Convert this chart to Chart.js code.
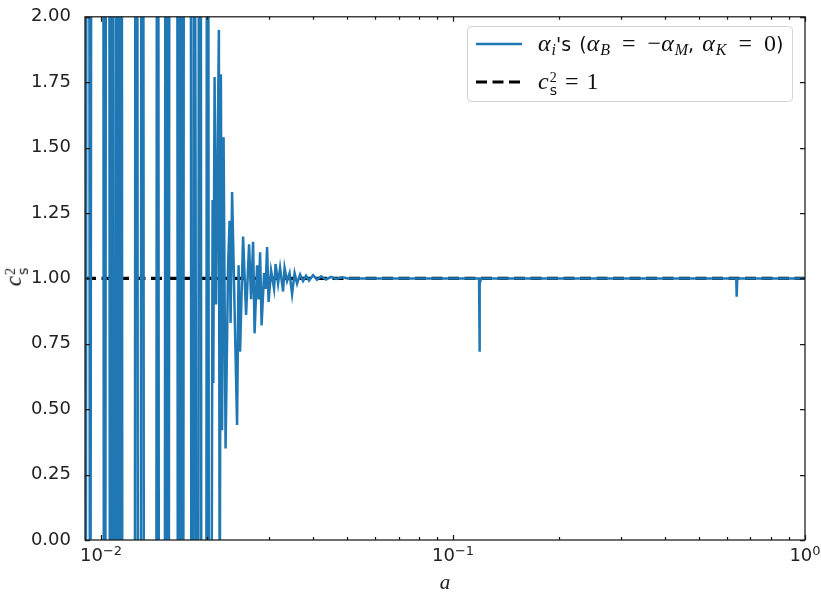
<!DOCTYPE html>
<html>
<head>
<meta charset="utf-8">
<script src="https://cdn.jsdelivr.net/npm/chart.js@4.4.0/dist/chart.umd.min.js"></script>
<style>
  html, body { margin: 0; padding: 0; background: #fff; }
  #wrap { position: relative; width: 821px; height: 592px; overflow: hidden; }
  #chart { position: absolute; left: 0; top: 0; }
  .legend {
    position: absolute; left: 467px; top: 26px; width: 326px; height: 76px;
    box-sizing: border-box; border: 1px solid #d4d4d4; border-radius: 4px;
    background: rgba(255,255,255,0.85);
    font-family: 'DejaVu Sans', sans-serif; font-size: 19px; color: #111;
  }
  .legend svg { position: absolute; left: 7px; }
  .legend .txt { position: absolute; left: 70px; white-space: nowrap; line-height: 24px; height: 24px; word-spacing: 2px; }
  .m { font-family: 'Liberation Serif', serif; font-style: italic; font-size: 24px; }
  .r { font-family: 'Liberation Serif', serif; font-style: normal; font-size: 24px; }
  .op { margin: 0 12px; }
  .op2 { margin: 0 8px; }
  .m sub { font-size: 16px; vertical-align: -4px; line-height: 0; margin-left: 1px; }
  .stack { display: inline-block; vertical-align: middle; line-height: 12px; font-size: 14px; margin-left: 1px; text-align: left; }
  .stack span { display: block; }
  .ytitle {
    position: absolute; left: 15px; top: 277px; white-space: nowrap;
    transform: translate(-50%, -50%) rotate(-90deg); color: #111;
  }
  .ytitle .m { font-size: 23px; }
</style>
</head>
<body>
<div id="wrap">
  <canvas id="chart" width="821" height="592"></canvas>

  <div class="ytitle"><span class="m">c</span><span class="stack"><span class="r" style="font-size:14px">2</span><span style="font-family:'DejaVu Sans';font-size:14px">s</span></span></div>

  <div class="legend">
    <svg width="50" height="8" style="top:13px"><line x1="1" y1="4" x2="47" y2="4" stroke="#1f77b4" stroke-width="2.4"/></svg>
    <div class="txt" style="top:4px"><span class="m">α<sub>i</sub></span>'s (<span class="m">α<sub>B</sub></span><span class="r op">=</span><span class="r">−</span><span class="m">α<sub>M</sub></span>, <span class="m">α<sub>K</sub></span><span class="r op">=</span><span class="r">0</span>)</div>
    <svg width="50" height="8" style="top:51px"><line x1="1" y1="4" x2="47" y2="4" stroke="#000" stroke-width="3.2" stroke-dasharray="11 5.5"/></svg>
    <div class="txt" style="top:42px"><span class="m">c</span><span class="stack"><span class="r" style="font-size:14px">2</span><span style="font-family:'DejaVu Sans';font-size:14px">s</span></span><span class="r op2">=</span><span class="r">1</span></div>
  </div>
</div>

<script>
// scale factor a (log axis) and the sound-speed squared c_s^2
// the grouped points in the early part are the pole crossings,
// where c_s^2 runs off to large positive / negative values
const aValues = [
  0.008717,
  0.009036, 0.009095, 0.009245, 0.009306, 0.009336, 0.009397,
  0.010132, 0.010198, 0.010265, 0.010332,
  0.010537, 0.010606, 0.010676, 0.010746, 0.010817, 0.010888,
  0.010995, 0.011067, 0.011140, 0.011213, 0.011286, 0.011360, 0.011435, 0.011510,
  0.012450, 0.012532, 0.012655, 0.012738,
  0.012948, 0.013033, 0.013162, 0.013248,
  0.014330, 0.014424, 0.014519, 0.014614,
  0.015149, 0.015249, 0.015349, 0.015450, 0.015551, 0.015653,
  0.016436, 0.016544, 0.016652, 0.016762, 0.016872, 0.016982, 0.017094, 0.017206,
  0.017958, 0.018076, 0.018255, 0.018374, 0.018556, 0.018677,
  0.018861, 0.018985, 0.019172, 0.019298,
  0.019875, 0.020005, 0.020137, 0.020269,
  0.020468, 0.020738, 0.020833, 0.021011, 0.021218, 0.021610, 0.021724, 0.021895, 0.022067, 0.022285, 0.022578,
  0.022951, 0.023177, 0.023329, 0.023559, 0.024342, 0.024582, 0.024825, 0.025317, 0.025818, 0.026330, 0.026677, 0.027028, 0.027295,
  0.027745, 0.028020, 0.028297, 0.028576, 0.029045, 0.029331, 0.029620, 0.029912, 0.030406, 0.031008, 0.031314, 0.031830,
  0.032249, 0.032888, 0.033213, 0.033760, 0.034317, 0.034883, 0.035458, 0.036043, 0.036757, 0.037485, 0.038228, 0.038986,
  0.040019, 0.041080, 0.042169, 0.043572, 0.045020, 0.046517, 0.048379, 0.050316,
  0.11855, 0.11878, 0.11925, 0.12011,
  0.6378, 0.6396, 0.6421,
  1.0
];

const cs2Values = [
  -2,
  -2, 4, 4, -2, -2, 4,
  4, -2, -2, 4,
  4, -2, -2, 4, 4, -2,
  -2, 4, 4, -2, -2, 4, 4, -2,
  -2, 4, 4, -2,
  -2, 4, 4, -2,
  -2, 4, 4, -2,
  -2, 4, 4, -2, -2, 4,
  4, -2, -2, 4, 4, -2, -2, 4,
  4, -2, -2, 4, 1.37, -2,
  -2, 4, 4, -2,
  -2, 4, 4, -2,
  -2, 1.30, 0.60, 1.77, 0.90, 1.95, -0.5, 1.78, 0.42, 1.54, 0.35,
  1.05, 1.22, 0.83, 1.33, 0.44, 1.05, 0.72, 1.16, 0.86, 1.13, 0.92, 1.14, 0.79,
  1.05, 0.92, 1.10, 0.82, 1.02, 0.96, 1.12, 0.91, 1.03, 0.96, 1.055, 0.98,
  1.04, 0.95, 1.04, 0.99, 1.02, 0.94, 1.02, 0.98, 1.015, 0.99, 1.01, 0.992,
  1.012, 0.995, 1.008, 0.996, 1.006, 0.998, 1.004, 1.0,
  1.0, 0.72, 0.98, 1.0,
  1.0, 0.93, 1.0,
  1.0
];

// reference line c_s^2 = 1
const refA = [0.009, 1.0];
const refC = [1.0, 1.0];

// axis ticks
const yTickValues = [0, 0.25, 0.5, 0.75, 1.0, 1.25, 1.5, 1.75, 2.0];
const xMajorValues = [0.01, 0.1, 1];
const xMajorBase = ['10', '10', '10'];
const xMajorExp = ['\u22122', '\u22121', '0'];
const xMinorValues = [0.02, 0.03, 0.04, 0.05, 0.06, 0.07, 0.08, 0.09,
                      0.2, 0.3, 0.4, 0.5, 0.6, 0.7, 0.8, 0.9];

const lineData = aValues.map((a, i) => ({ x: a, y: cs2Values[i] }));
const refData = refA.map((a, i) => ({ x: a, y: refC[i] }));

// frame on all four sides with inward-pointing ticks
const frameTicks = {
  id: 'frameTicks',
  afterDatasetsDraw(chart) {
    const { ctx, chartArea: { left, right, top, bottom }, scales: { x, y } } = chart;
    ctx.save();
    ctx.strokeStyle = '#1a1a1a';
    ctx.lineWidth = 1.25;
    ctx.strokeRect(left, top, right - left, bottom - top);
    ctx.beginPath();
    yTickValues.forEach(v => {
      const p = Math.round(y.getPixelForValue(v)) + 0.5;
      ctx.moveTo(left, p); ctx.lineTo(left + 5, p);
      ctx.moveTo(right, p); ctx.lineTo(right - 5, p);
    });
    xMajorValues.forEach(v => {
      const p = Math.round(x.getPixelForValue(v)) + 0.5;
      ctx.moveTo(p, bottom); ctx.lineTo(p, bottom - 5);
      ctx.moveTo(p, top); ctx.lineTo(p, top + 5);
    });
    xMinorValues.forEach(v => {
      const p = Math.round(x.getPixelForValue(v)) + 0.5;
      ctx.moveTo(p, bottom); ctx.lineTo(p, bottom - 3);
      ctx.moveTo(p, top); ctx.lineTo(p, top + 3);
    });
    ctx.stroke();

    // decade labels: base with raised exponent
    ctx.fillStyle = '#222';
    ctx.textBaseline = 'alphabetic';
    ctx.textAlign = 'left';
    xMajorValues.forEach((v, i) => {
      const p = x.getPixelForValue(v);
      ctx.font = "18px 'DejaVu Sans'";
      const w1 = ctx.measureText(xMajorBase[i]).width;
      ctx.font = "13px 'DejaVu Sans'";
      const w2 = ctx.measureText(xMajorExp[i]).width;
      const start = p - (w1 + w2) / 2;
      ctx.font = "18px 'DejaVu Sans'";
      ctx.fillText(xMajorBase[i], start, bottom + 21);
      ctx.font = "13px 'DejaVu Sans'";
      ctx.fillText(xMajorExp[i], start + w1, bottom + 15);
    });
    ctx.restore();
  }
};

Chart.defaults.font.family = "'DejaVu Sans', sans-serif";
Chart.defaults.color = '#222';

new Chart(document.getElementById('chart'), {
  type: 'scatter',
  data: {
    datasets: [
      {
        data: lineData,
        showLine: true,
        borderColor: '#1f77b4',
        borderWidth: 2.5,
        pointRadius: 0,
        tension: 0,
        fill: false
      },
      {
        data: refData,
        showLine: true,
        borderColor: '#000',
        borderWidth: 3.2,
        borderDash: [11, 5.5],
        pointRadius: 0,
        tension: 0,
        fill: false
      }
    ]
  },
  options: {
    responsive: false,
    animation: false,
    devicePixelRatio: 1,
    layout: { padding: { left: 0, right: 16, top: 15, bottom: 0 } },
    plugins: { legend: { display: false }, tooltip: { enabled: false } },
    scales: {
      x: {
        type: 'logarithmic',
        min: 0.009,
        max: 1,
        grid: { display: false },
        border: { display: false },
        afterBuildTicks: s => { s.ticks = xMajorValues.map(v => ({ value: v })); },
        afterFit: s => { s.height = 52; },
        ticks: { display: false },
        title: {
          display: true,
          text: 'a',
          color: '#222',
          padding: { top: 0, bottom: -4 },
          font: { family: "'Liberation Serif', serif", style: 'italic', size: 21 }
        }
      },
      y: {
        type: 'linear',
        min: 0,
        max: 2,
        grid: { display: false },
        border: { display: false },
        afterBuildTicks: s => { s.ticks = yTickValues.map(v => ({ value: v })); },
        afterFit: s => { s.width = 85; },
        ticks: {
          padding: 6,
          font: { size: 18 },
          color: '#222',
          callback: v => Number(v).toFixed(2)
        }
      }
    }
  },
  plugins: [frameTicks]
});
</script>
</body>
</html>
